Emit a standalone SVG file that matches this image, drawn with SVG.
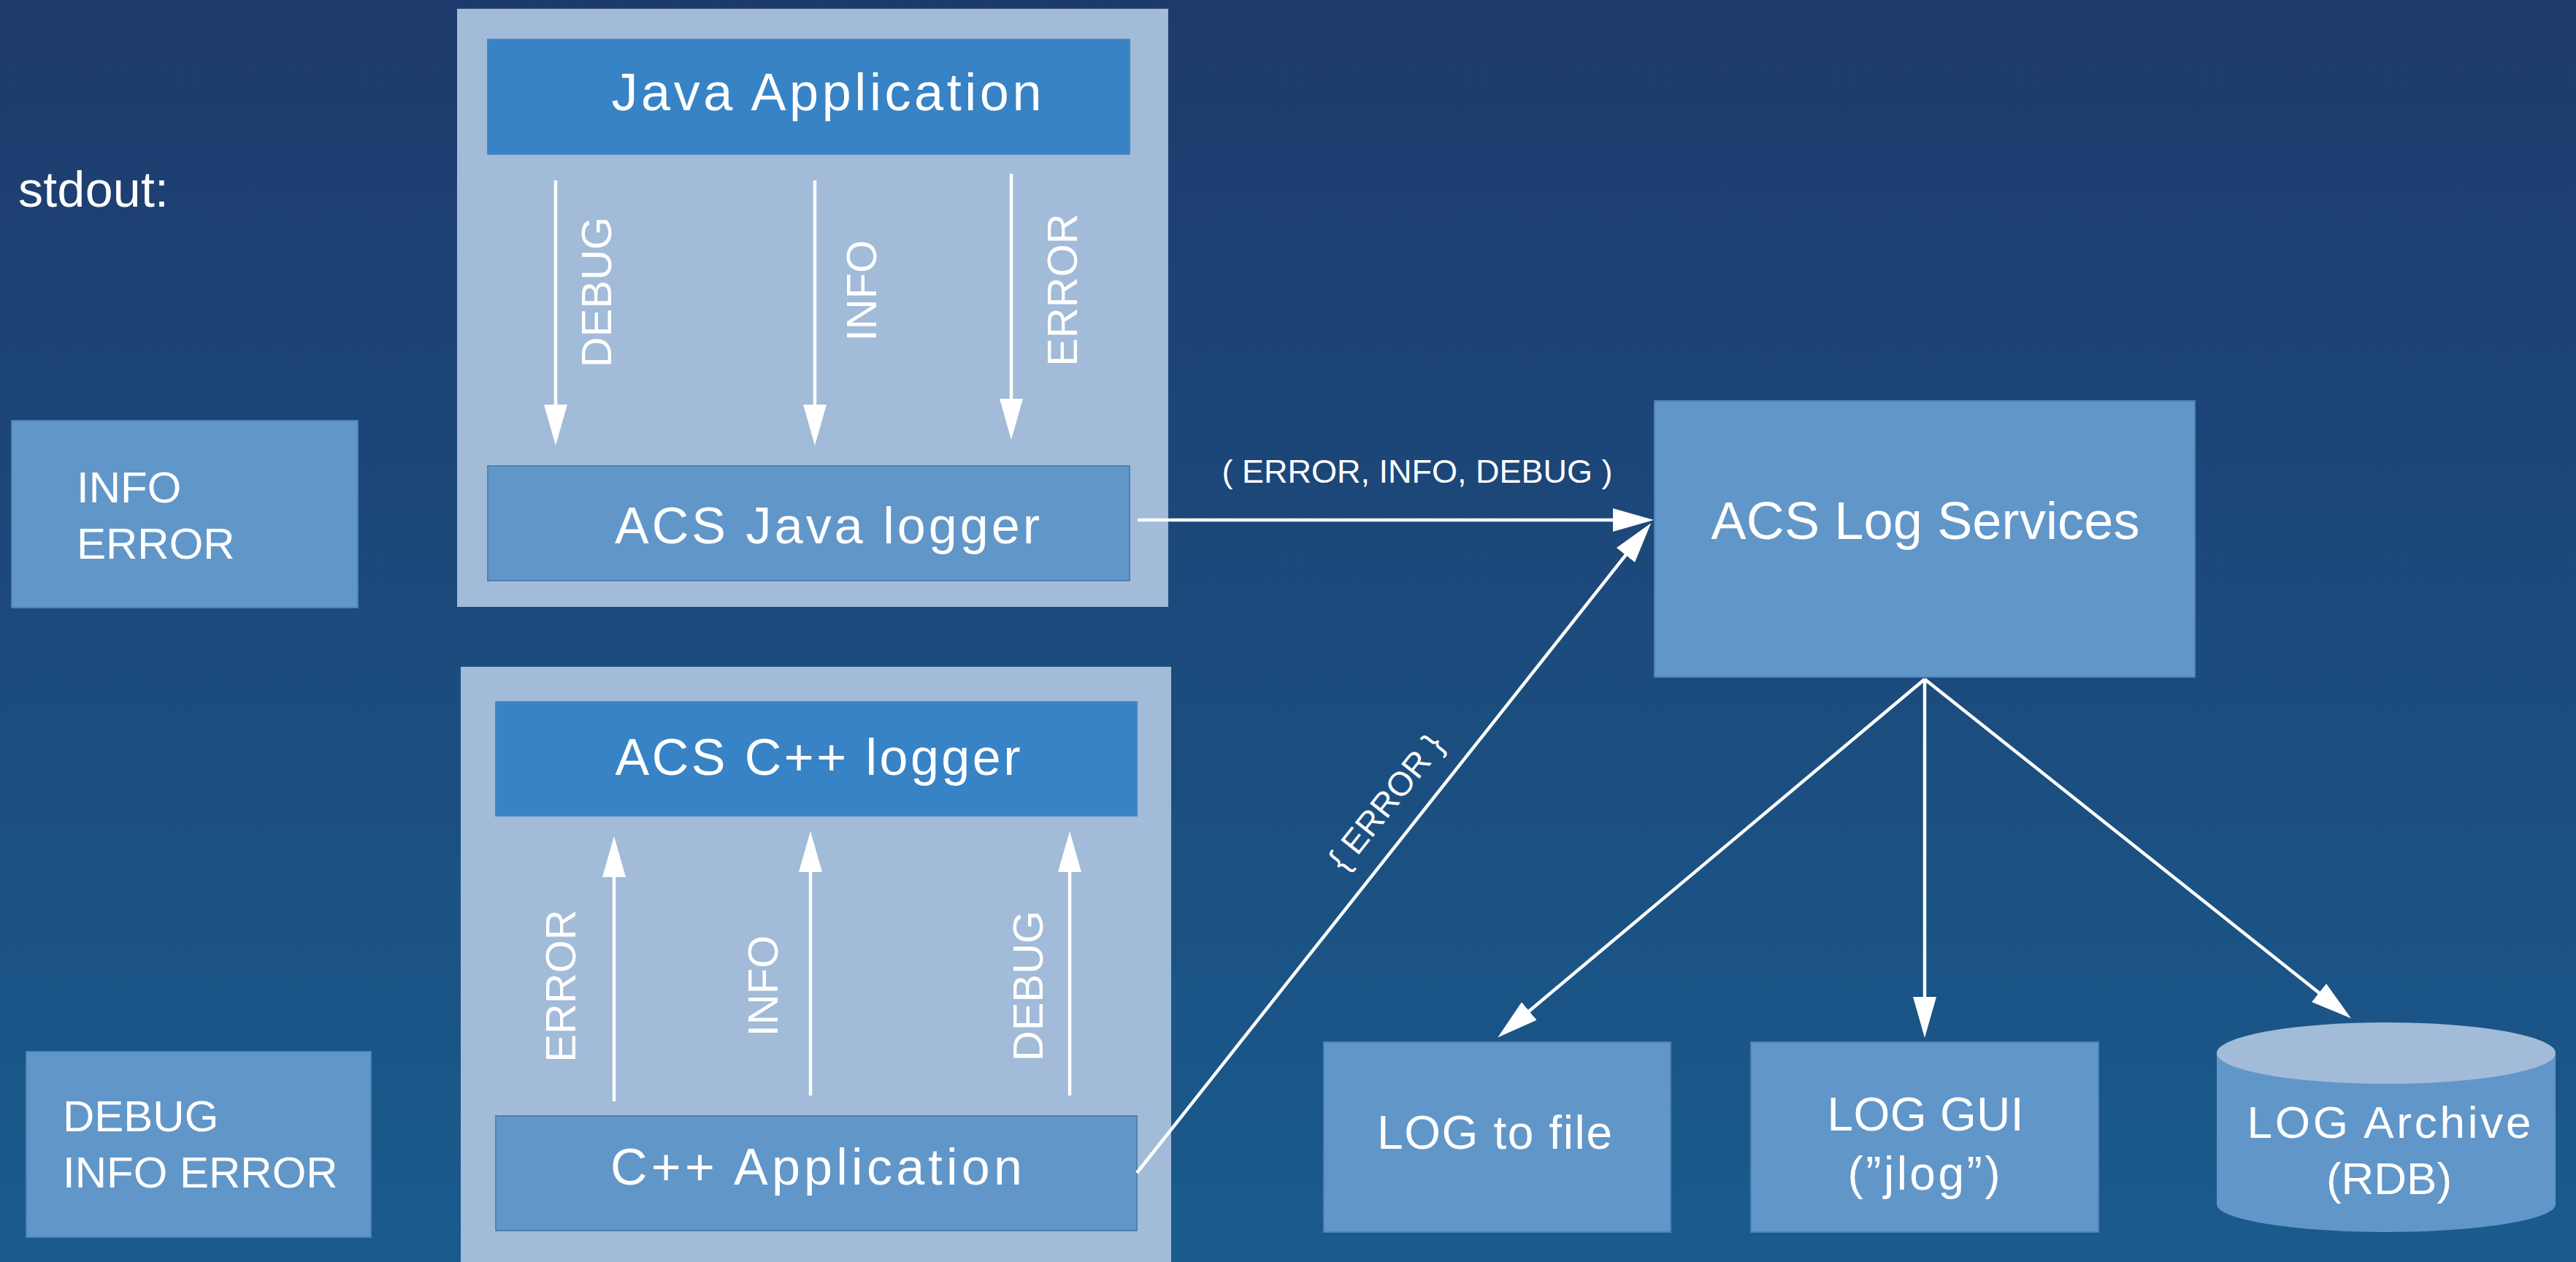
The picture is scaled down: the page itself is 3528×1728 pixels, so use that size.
<svg xmlns="http://www.w3.org/2000/svg" width="3528" height="1728" viewBox="0 0 3528 1728">
<defs>
<linearGradient id="bg" x1="0" y1="0" x2="0" y2="1">
<stop offset="0" stop-color="#1e3a6c"/>
<stop offset="1" stop-color="#1a5b8d"/>
</linearGradient>
<marker id="ah" viewBox="0 0 56 32" markerWidth="56" markerHeight="32" markerUnits="userSpaceOnUse" refX="46" refY="16" orient="auto">
<path d="M0,0 L56,16 L0,32 z" fill="#ffffff"/>
</marker>
<style>
.t{font-family:"Liberation Sans",Arial,sans-serif;fill:#ffffff}
.c{text-anchor:middle}
.cont{fill:#a1bbd8}
.dark{fill:#3783c5;stroke:#4a86c0;stroke-width:2}
.mid{fill:#6196c9;stroke:#4f82b6;stroke-width:2}
.ln{stroke:#ffffff;stroke-width:4.5;fill:none}
.arr{stroke:#ffffff;stroke-width:4.5;fill:none;marker-end:url(#ah)}
</style>
</defs>
<rect x="0" y="0" width="3528" height="1728" fill="url(#bg)"/>

<text class="t" x="25" y="283" font-size="68" textLength="206">stdout:</text>

<g id="stdout-java">
<rect class="mid" x="16" y="576" width="474" height="256" stroke="#3d6ea3"/>
<text class="t" x="105" y="688" font-size="60">INFO</text>
<text class="t" x="105" y="765" font-size="60">ERROR</text>
</g>

<g id="stdout-cpp">
<rect class="mid" x="36" y="1440" width="472" height="254" stroke="#3d6ea3"/>
<text class="t" x="86" y="1549" font-size="60">DEBUG</text>
<text class="t" x="86" y="1626" font-size="60">INFO ERROR</text>
</g>

<g id="java-container">
<rect class="cont" x="626" y="12" width="974" height="819"/>
</g>
<g id="java-application">
<rect class="dark" x="668" y="54" width="879" height="157"/>
<text class="t c" x="1132" y="151" font-size="72" textLength="589">Java Application</text>
</g>
<g id="acs-java-logger">
<rect class="mid" x="668" y="638" width="879" height="157"/>
<text class="t c" x="1133" y="744" font-size="70" textLength="582">ACS Java logger</text>
</g>

<g id="cpp-container">
<rect class="cont" x="631" y="913" width="973" height="830"/>
</g>
<g id="acs-cpp-logger">
<rect class="dark" x="679" y="961" width="878" height="156"/>
<text class="t c" x="1120" y="1061" font-size="70" textLength="555">ACS C++ logger</text>
</g>
<g id="cpp-application">
<rect class="mid" x="679" y="1528" width="878" height="157"/>
<text class="t c" x="1118" y="1622" font-size="70" textLength="564">C++ Application</text>
</g>

<g id="acs-log-services">
<rect class="mid" x="2266" y="549" width="740" height="378"/>
<text class="t c" x="2637" y="738" font-size="72" textLength="587">ACS Log Services</text>
</g>

<g id="log-to-file">
<rect class="mid" x="1813" y="1427" width="475" height="260"/>
<text class="t c" x="2047" y="1573" font-size="64" textLength="322">LOG to file</text>
</g>

<g id="log-gui">
<rect class="mid" x="2398" y="1427" width="476" height="260"/>
<text class="t c" x="2637" y="1548" font-size="64" textLength="269">LOG GUI</text>
<text class="t c" x="2635" y="1629" font-size="64" textLength="209">(”jlog”)</text>
</g>

<g id="log-archive">
<path d="M3036,1442 L3036,1649 A232,38 0 0 0 3500,1649 L3500,1442 z" fill="#6196c9"/>
<ellipse cx="3268" cy="1442" rx="232" ry="42" fill="#a1bbd8"/>
<text class="t c" x="3272" y="1558" font-size="62" textLength="389">LOG Archive</text>
<text class="t c" x="3272" y="1635" font-size="62">(RDB)</text>
</g>

<g id="connectors">
<line class="arr" x1="761" y1="247" x2="761" y2="600"/>
<line class="arr" x1="1116" y1="247" x2="1116" y2="600"/>
<line class="arr" x1="1385" y1="238" x2="1385" y2="592"/>
<text class="t c" transform="translate(837,400) rotate(-90)" font-size="58">DEBUG</text>
<text class="t c" transform="translate(1200,398) rotate(-90)" font-size="58">INFO</text>
<text class="t c" transform="translate(1475,397) rotate(-90)" font-size="58">ERROR</text>

<line class="arr" x1="841" y1="1508" x2="841" y2="1155"/>
<line class="arr" x1="1110" y1="1500" x2="1110" y2="1148"/>
<line class="arr" x1="1465" y1="1500" x2="1465" y2="1148"/>
<text class="t c" transform="translate(788,1350) rotate(-90)" font-size="58">ERROR</text>
<text class="t c" transform="translate(1065,1350) rotate(-90)" font-size="58">INFO</text>
<text class="t c" transform="translate(1428,1350) rotate(-90)" font-size="58">DEBUG</text>

<line class="arr" x1="1558" y1="712" x2="2255" y2="712"/>
<text class="t c" x="1941" y="661" font-size="45">( ERROR, INFO, DEBUG )</text>

<line class="arr" x1="1557" y1="1606" x2="2255" y2="724"/>
<text class="t c" transform="translate(1898,1098) rotate(-51.5)" y="16" font-size="46">{ ERROR }</text>

<line class="arr" x1="2636" y1="930" x2="2059" y2="1414"/>
<line class="arr" x1="2636" y1="930" x2="2636" y2="1411"/>
<line class="arr" x1="2636" y1="930" x2="3212" y2="1388"/>
</g>
</svg>
